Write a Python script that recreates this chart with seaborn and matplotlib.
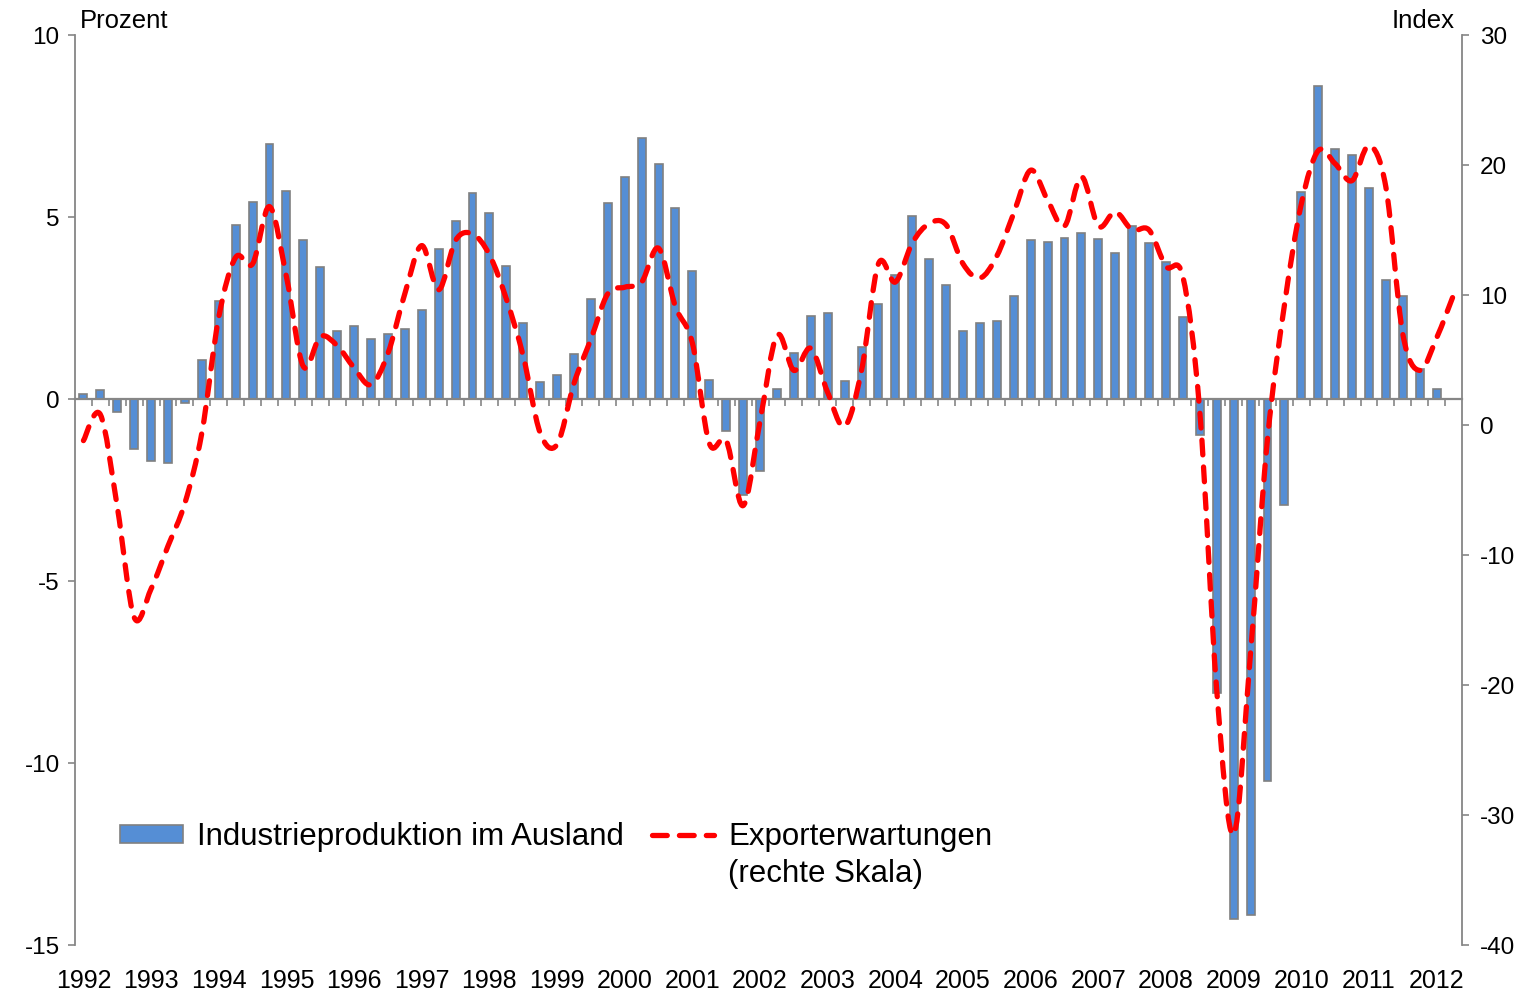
import numpy as np
import pandas as pd
import matplotlib
matplotlib.use("Agg")
import matplotlib.pyplot as plt
import seaborn as sns
from matplotlib.path import Path
from matplotlib.patches import PathPatch, Patch
from matplotlib.lines import Line2D

# ---------------- data ----------------
years = list(range(1992, 2013))
quarters = [f"{y}Q{q}" for y in years for q in range(1, 5)][:82]

industrie = [
    0.15, 0.26, -0.37, -1.37, -1.71, -1.76, -0.11, 1.07,
    2.70, 4.77, 5.41, 7.00, 5.72, 4.37, 3.63, 1.88,
    2.00, 1.65, 1.78, 1.91, 2.45, 4.13, 4.88, 5.65,
    5.11, 3.66, 2.09, 0.48, 0.66, 1.24, 2.76, 5.38,
    6.10, 7.16, 6.45, 5.24, 3.51, 0.53, -0.87, -2.65,
    -1.97, 0.28, 1.26, 2.29, 2.36, 0.50, 1.43, 2.62,
    3.41, 5.02, 3.85, 3.14, 1.88, 2.08, 2.14, 2.84,
    4.38, 4.32, 4.41, 4.57, 4.39, 4.00, 4.75, 4.28,
    3.76, 2.24, -1.00, -8.08, -14.28, -14.18, -10.50, -2.90,
    5.69, 8.61, 6.88, 6.71, 5.81, 3.27, 2.84, 0.83,
    0.28, np.nan,
]

export = [
    -1.2, 0.8, -6.3, -14.8, -12.6, -9.3, -6.0, -0.6,
    8.3, 12.9, 12.4, 16.8, 11.4, 4.5, 6.8, 6.1,
    4.4, 3.1, 5.5, 10.1, 13.8, 10.4, 14.2, 14.7,
    13.1, 9.7, 5.3, -0.6, -1.5, 3.2, 6.6, 10.1,
    10.6, 11.0, 13.6, 9.1, 6.3, -1.4, -1.2, -6.2,
    0.3, 6.9, 4.2, 5.9, 2.5, -0.1, 4.2, 12.4,
    11.0, 14.0, 15.5, 15.4, 12.4, 11.3, 13.0, 16.3,
    19.6, 17.3, 15.3, 19.1, 15.3, 16.4, 15.0, 15.0,
    12.2, 11.4, 1.0, -20.4, -31.5, -17.5, -1.1, 9.2,
    17.0, 21.1, 20.1, 18.8, 21.5, 18.3, 7.0, 4.2,
    6.7, 10.0,
]

left_ticks = [-15, -10, -5, 0, 5, 10]
right_ticks = [-40, -30, -20, -10, 0, 10, 20, 30]
year_labels = [str(y) for y in years]

label_bars = "Industrieproduktion im Ausland"
label_line = "Exporterwartungen"
label_line2 = "(rechte Skala)"

# ---------------- style ----------------
BLUE = "#558ED5"
EDGE = "#808080"
AXGRAY = "#868686"
RED = "#FF0000"

sns.set_style("white")
plt.rcParams["font.family"] = ["Liberation Sans", "DejaVu Sans"]
plt.rcParams["axes.unicode_minus"] = False
plt.rcParams["text.color"] = "black"

W, H = 1537, 990
fig = plt.figure(figsize=(W / 100, H / 100), dpi=100)
ax = fig.add_axes([75 / W, 45 / H, 1387 / W, 910 / H])

df = pd.DataFrame({"quarter": quarters, "value": industrie})
sns.barplot(data=df, x="quarter", y="value", order=quarters, color=BLUE,
            saturation=1, width=0.47, edgecolor=EDGE, linewidth=1.2,
            errorbar=None, ax=ax, zorder=2)

n = len(quarters)
ax.set_xlim(-0.5, n - 0.5)
ax.set_ylim(-15, 10)
ax.set_xlabel("")
ax.set_ylabel("")
ax.set_yticks(left_ticks)
ax.set_yticklabels([str(t) for t in left_ticks])
ax.tick_params(axis="y", direction="out", length=5, width=1.2, color=AXGRAY,
               labelsize=17.5, labelcolor="black", pad=6, left=True)

# x axis at zero with boundary ticks
ax.spines["bottom"].set_position(("data", 0))
ax.spines["bottom"].set_color(AXGRAY)
ax.spines["bottom"].set_linewidth(1.6)
ax.spines["left"].set_color(AXGRAY)
ax.spines["left"].set_linewidth(1.3)
ax.spines["top"].set_visible(False)
ax.spines["right"].set_visible(False)
ax.set_xticks(np.arange(0.5, n - 1, 1))
ax.set_xticklabels([])
ax.tick_params(axis="x", direction="out", length=5, width=1.2, color=AXGRAY,
               labelbottom=False, bottom=True)

# year labels at the bottom of the plot area
secax = ax.secondary_xaxis("bottom")
secax.set_xticks(np.arange(0, n, 4), labels=year_labels)
secax.tick_params(length=0, pad=17, labelsize=18, labelcolor="black")
secax.spines["bottom"].set_visible(False)

# right axis
ax2 = ax.twinx()
ax2.set_ylim(-40, 30)
ax2.set_yticks(right_ticks)
ax2.set_yticklabels([str(t) for t in right_ticks])
for s in ["left", "top", "bottom"]:
    ax2.spines[s].set_visible(False)
ax2.spines["right"].set_color(AXGRAY)
ax2.spines["right"].set_linewidth(1.3)
ax2.tick_params(axis="y", direction="out", length=5, width=1.2, color=AXGRAY,
                labelsize=17.5, labelcolor="black", pad=8, right=True)

# smoothed (Catmull-Rom Bezier) dashed line through the data points
xs = np.arange(n, dtype=float)
ys = np.array(export, dtype=float)
P = np.column_stack([xs, ys])
verts = [P[0]]
codes = [Path.MOVETO]
for i in range(n - 1):
    p0 = P[i - 1] if i > 0 else P[i]
    p1 = P[i]
    p2 = P[i + 1]
    p3 = P[i + 2] if i + 2 < n else P[i + 1]
    c1 = p1 + (p2 - p0) / 6.0
    c2 = p2 - (p3 - p1) / 6.0
    verts += [c1, c2, p2]
    codes += [Path.CURVE4] * 3
dash = (0, (2.8, 2.3))
patch = PathPatch(Path(verts, codes), fill=False, edgecolor=RED, linewidth=3.8,
                  linestyle=dash, capstyle="round", joinstyle="round",
                  transform=ax2.transData, zorder=3)
ax2.add_patch(patch)

# legend: two columns, second label on two rows aligned with first row
blank = Line2D([], [], linestyle="none")
handles = [
    Patch(facecolor=BLUE, edgecolor=EDGE, linewidth=1.2),
    blank,
    Line2D([], [], color=RED, linewidth=3.8, linestyle=dash, dash_capstyle="round"),
    blank,
]
ax2.legend(handles, [label_bars, " ", label_line, label_line2], ncol=2,
           loc="upper left",
           bbox_to_anchor=((120 - 75) / 1387, (945 - 822) / 910),
           frameon=False, fontsize=22.5, handlelength=2.0, handleheight=0.5,
           handletextpad=0.45, columnspacing=0.9, borderaxespad=0,
           borderpad=0, labelspacing=0.21, labelcolor="black")

fig.text(80 / W, 1 - 28 / H, "Prozent", ha="left", va="baseline", fontsize=18.5)
fig.text(1455 / W, 1 - 28 / H, "Index", ha="right", va="baseline", fontsize=18.5)

fig.savefig("out.png", dpi=100)
